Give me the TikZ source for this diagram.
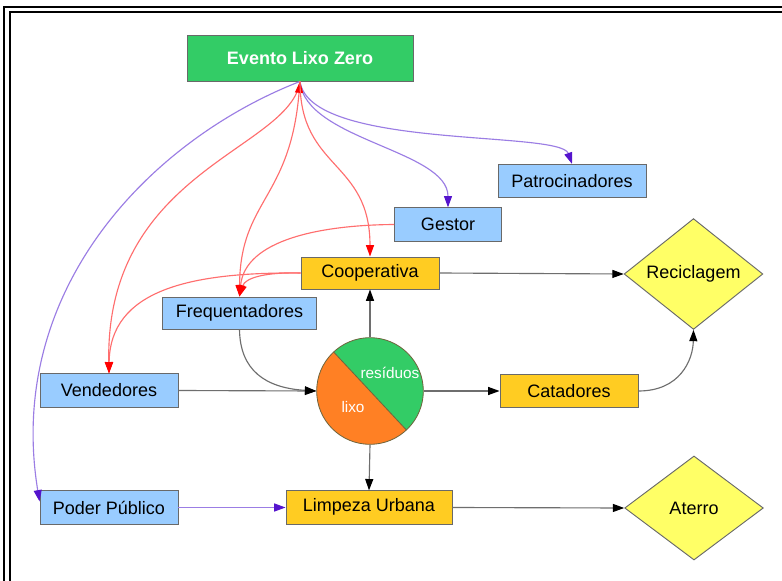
\documentclass[tikz,border=0pt]{standalone}
\usepackage{fontspec}
\setmainfont{Liberation Sans}
\usepackage{color}
\usetikzlibrary{arrows.meta,shapes.geometric,calc}
\definecolor{evgreen}{RGB}{51,204,102}
\definecolor{boxblue}{RGB}{153,204,255}
\definecolor{boxyellow}{RGB}{255,204,34}
\definecolor{diayellow}{RGB}{255,255,102}
\definecolor{lixoorange}{RGB}{255,128,36}
\definecolor{boxborder}{RGB}{105,105,105}
\definecolor{linegray}{RGB}{110,110,110}
\definecolor{linepurple}{RGB}{155,125,228}
\definecolor{tippurple}{RGB}{85,20,205}
\definecolor{linered}{RGB}{255,110,110}
\definecolor{circborder}{RGB}{110,100,60}

\begin{document}
\begin{tikzpicture}[x=0.75pt,y=-0.75pt,
    every node/.style={font=\fontsize{13.5}{16}\selectfont, inner sep=0pt},
    actor/.style={rectangle, draw=boxborder, line width=0.7pt, fill=boxblue, minimum height=25pt},
    agent/.style={rectangle, draw=boxborder, line width=0.7pt, fill=boxyellow, minimum height=25pt},
    dest/.style={diamond, draw=boxborder, line width=0.7pt, fill=diayellow, minimum width=104pt, minimum height=78pt},
    flow/.style={draw=linegray, line width=0.85pt, -{Triangle[length=8.5pt,width=6pt,color=black]}},
    link/.style={draw=linepurple, line width=0.85pt, -{Triangle[length=8.5pt,width=6pt,color=tippurple]}},
    tie/.style={draw=linered, line width=0.85pt, -{Triangle[length=8.5pt,width=6pt,color=red]}},
    tieboth/.style={tie, {Triangle[length=8.5pt,width=6pt,color=red]}-{Triangle[length=8.5pt,width=6pt,color=red]}}]
  \useasboundingbox (0,0) rectangle (782,581);
  \fill[white] (0,0) rectangle (782,581);
  \draw[line width=1.5pt] (3.5,581) -- (3.5,7) -- (782,7);
  \draw[line width=1.5pt] (9.5,581) -- (9.5,12) -- (782,12);

  \node[rectangle, draw=boxborder, line width=0.7pt, fill=evgreen, text=white,
        font=\fontsize{13.5}{16}\selectfont\bfseries,
        minimum width=169.5pt, minimum height=34.5pt] (EV) at (300,58) {Evento Lixo Zero};
  \node[actor, minimum width=111pt] (PA) at (572,181) {Patrocinadores};
  \node[actor, minimum width=80pt] (GE) at (448,224.5) {Gestor};
  \node[agent, minimum width=103.5pt, minimum height=24pt] (CO) at (370,273) {Cooperativa};
  \node[actor, minimum width=115pt, minimum height=24pt] (FR) at (239.5,313) {Frequentadores};
  \node[actor, minimum width=103.5pt] (VE) at (109,390.5) {Vendedores};
  \node[agent, minimum width=103.5pt] (CA) at (569,391) {Catadores};
  \node[dest] (RC) at (693.5,274) {Reciclagem};
  \node[actor, minimum width=103.5pt] (PP) at (109,507.5) {Poder Público};
  \node[agent, minimum width=124.5pt] (LU) at (369,507.5) {\strut Limpeza Urbana};
  \node[dest] (AT) at (694,508) {Aterro};

  \coordinate (rc) at (370,391);
  \fill[evgreen] ($(rc)+(133:40pt)$) arc[start angle=133, end angle=-47, radius=40pt] -- cycle;
  \fill[lixoorange] ($(rc)+(133:40pt)$) arc[start angle=133, end angle=313, radius=40pt] -- cycle;
  \draw[circborder, line width=0.6pt] ($(rc)+(133:40pt)$) -- ($(rc)+(313:40pt)$);
  \node[circle, draw=circborder, line width=0.6pt, minimum size=80pt] (RS) at (rc) {};
  \node[text=white, font=\fontsize{11.5}{13}\selectfont] (resi) at (390,373) {resíduos};
  \node[text=white, font=\fontsize{11.5}{13}\selectfont] (lixo) at (353,407) {lixo};

  \draw[link] (EV.south) .. controls (310,150) and (560,130) .. (PA.north);
  \draw[link] (EV.south) .. controls (305,140) and (448,150) .. (GE.north);
  \draw[link] (EV.south) .. controls (150,140) and (5,290) .. (PP.175);
  \draw[link] (PP.east) -- (LU.west);

  \draw[tie] (EV.south) .. controls (290,150) and (105,170) .. (VE.north);
  \draw[tieboth] (EV.south) .. controls (290,200) and (240,200) .. (FR.north);
  \draw[tie] (EV.south) .. controls (300,170) and (370,160) .. (CO.north);
  \draw[tie] (GE.west) .. controls (320,225) and (245,240) .. (FR.north);
  \draw[tie] (CO.west) .. controls (265,272) and (245,278) .. (FR.north);
  \draw[tie] (CO.west) .. controls (190,272) and (110,290) .. (VE.north);

  \draw[flow] (CO.east) -- (RC.west);
  \draw[flow] (RS.north) -- (CO.south);
  \draw[flow] (FR.south) .. controls (240,370) and (265,388) .. (RS.west);
  \draw[flow] (VE.east) -- (RS.west);
  \draw[flow] (RS.east) -- (CA.west);
  \draw[flow] (CA.east) .. controls (680,391) and (693,360) .. (RC.south);
  \draw[flow] (RS.south) -- (LU.north);
  \draw[flow] (LU.east) -- (AT.west);
\end{tikzpicture}
\end{document}
